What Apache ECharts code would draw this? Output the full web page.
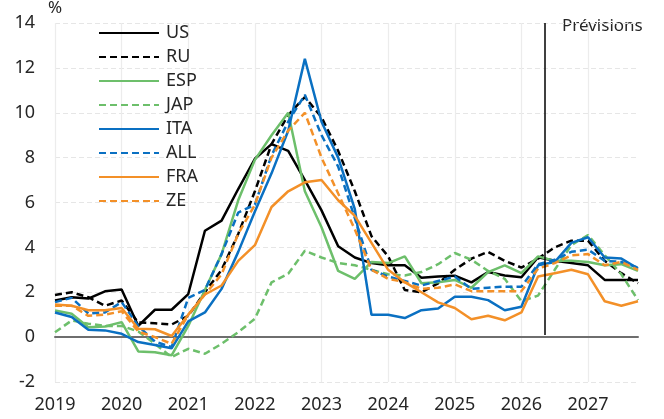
<!DOCTYPE html>
<html>
<head>
<meta charset="utf-8">
<script src="https://cdn.jsdelivr.net/npm/echarts@6/dist/echarts.min.js"></script>
<style>
  html, body { margin: 0; padding: 0; background: #fff; }
  #chart { width: 664px; height: 419px; }
</style>
</head>
<body>
<div id="chart"></div>
<script>
// trimestres 2019T1 .. 2027T4
const years = [2019, 2020, 2021, 2022, 2023, 2024, 2025, 2026, 2027]
const categories = []
years.forEach(y => { for (let q = 1; q <= 4; q++) categories.push(y + 'T' + q) })

const yTicks = [-2, 0, 2, 4, 6, 8, 10, 12, 14]
const forecastStart = 29.43 // position (en trimestres depuis 2019T1) de la ligne Prévisions

const US = [1.63, 1.78, 1.72, 2.04, 2.12, 0.5, 1.22, 1.22, 1.92, 4.74, 5.19, 6.6, 7.95, 8.6, 8.3, 7.0, 5.65, 4.05, 3.55, 3.3, 3.2, 3.2, 2.65, 2.7, 2.74, 2.44, 2.9, 2.75, 2.67, 3.56, 3.4, 3.3, 3.2, 2.55, 2.55, 2.55]
const RU = [1.88, 2.0, 1.78, 1.4, 1.63, 0.65, 0.62, 0.56, 0.95, 2.0, 3.0, 4.6, 6.5, 8.6, 9.9, 10.7, 9.8, 8.3, 6.5, 4.5, 3.6, 2.1, 2.0, 2.4, 3.0, 3.5, 3.8, 3.4, 3.1, 3.5, 4.0, 4.3, 4.3, 3.4, 2.85, 2.4]
const ESP = [1.19, 1.04, 0.44, 0.47, 0.67, -0.64, -0.67, -0.81, 0.5, 2.1, 3.7, 6.1, 7.9, 9.0, 10.0, 6.5, 4.9, 2.95, 2.6, 3.35, 3.3, 3.6, 2.4, 2.45, 2.55, 2.2, 2.9, 3.2, 2.85, 3.6, 3.4, 3.4, 3.35, 3.2, 3.25, 2.95]
const JAP = [0.22, 0.74, 0.6, 0.5, 0.5, 0.25, -0.3, -0.89, -0.52, -0.74, -0.3, 0.22, 0.82, 2.44, 2.82, 3.85, 3.55, 3.3, 3.2, 3.0, 2.8, 2.75, 2.9, 3.25, 3.75, 3.45, 2.95, 2.6, 1.6, 1.85, 3.0, 4.1, 4.55, 3.65, 2.8, 1.65]
const ITA = [1.1, 0.9, 0.33, 0.3, 0.15, -0.22, -0.35, -0.5, 0.7, 1.1, 2.15, 3.8, 5.6, 7.3, 9.2, 12.4, 9.6, 8.0, 5.7, 1.0, 1.0, 0.85, 1.2, 1.28, 1.8, 1.8, 1.65, 1.2, 1.35, 3.2, 3.35, 4.2, 4.45, 3.55, 3.5, 3.05]
const ALL = [1.56, 1.75, 1.05, 1.1, 1.56, 0.5, -0.2, -0.45, 1.75, 2.1, 3.7, 5.55, 5.9, 8.1, 9.6, 10.8, 9.0, 7.6, 5.3, 3.0, 2.7, 2.5, 2.3, 2.5, 2.7, 2.15, 2.2, 2.25, 2.25, 3.25, 3.45, 3.8, 3.9, 3.4, 3.35, 3.1]
const FRA = [1.45, 1.4, 1.2, 1.2, 1.3, 0.37, 0.35, 0.05, 1.0, 1.9, 2.3, 3.4, 4.1, 5.8, 6.5, 6.9, 7.0, 6.1, 5.4, 4.2, 3.0, 2.45, 2.0, 1.55, 1.3, 0.8, 0.95, 0.75, 1.1, 2.7, 2.85, 3.0, 2.8, 1.6, 1.4, 1.6]
const ZE = [1.4, 1.4, 0.95, 1.0, 1.15, 0.25, 0.0, -0.3, 1.0, 1.9, 2.8, 4.6, 5.9, 8.0, 9.2, 10.0, 8.0, 6.4, 4.8, 3.0, 2.6, 2.45, 2.15, 2.2, 2.35, 2.05, 2.05, 2.05, 2.05, 3.05, 3.3, 3.65, 3.7, 3.2, 3.35, 3.0]

const black = '#000000'
const green = '#6dbf6b'
const blue = '#0a70c2'
const orange = '#f39028'
const font = 'Noto Sans'
const textColor = '#262626'

const seriesDefs = [
  { name: 'US', data: US, color: black, dashed: false },
  { name: 'RU', data: RU, color: black, dashed: true },
  { name: 'ESP', data: ESP, color: green, dashed: false },
  { name: 'JAP', data: JAP, color: green, dashed: true },
  { name: 'ITA', data: ITA, color: blue, dashed: false },
  { name: 'ALL', data: ALL, color: blue, dashed: true },
  { name: 'FRA', data: FRA, color: orange, dashed: false },
  { name: 'ZE', data: ZE, color: orange, dashed: true }
]

const series = seriesDefs.map(s => ({
  name: s.name,
  type: 'line',
  data: s.data,
  symbol: 'none',
  color: s.color,
  lineStyle: { color: s.color, width: 2.5, type: s.dashed ? [7, 4] : 'solid' },
  animation: false
}))

// ligne verticale Prévisions, sur un axe x numérique caché (position fractionnaire)
series.push({
  name: 'prev',
  type: 'line',
  xAxisIndex: 1,
  data: [],
  symbol: 'none',
  markLine: {
    silent: true,
    symbol: 'none',
    label: { show: false },
    lineStyle: { color: '#000', width: 1.5, type: 'solid' },
    data: [[{ coord: [forecastStart, 0.1] }, { coord: [forecastStart, yTicks[yTicks.length - 1]] }]]
  }
})

const chart = echarts.init(document.getElementById('chart'))
chart.setOption({
  backgroundColor: '#fff',
  animation: false,
  grid: { left: 55, right: 26, top: 22.5, bottom: 37 },
  legend: {
    orient: 'vertical',
    left: 98,
    top: 24,
    padding: 0,
    itemWidth: 60,
    itemHeight: 14,
    itemGap: 6,
    data: seriesDefs.map(s => s.name),
    itemStyle: { opacity: 0 },
    textStyle: { fontFamily: font, fontSize: 18, color: textColor, padding: [0, 0, 0, 2] }
  },
  xAxis: [{
    type: 'category',
    data: categories,
    boundaryGap: false,
    axisLine: { show: true, onZero: true, lineStyle: { color: '#6e6e6e', width: 2 } },
    axisTick: { show: false },
    axisLabel: {
      interval: 3,
      margin: 14,
      fontFamily: font,
      fontSize: 18,
      color: textColor,
      formatter: v => v.slice(0, 4)
    },
    splitLine: { show: true, interval: 3, lineStyle: { color: '#ececec', width: 1.2 } }
  }, {
    type: 'value',
    min: 0,
    max: categories.length - 1,
    show: false
  }],
  yAxis: {
    type: 'value',
    min: yTicks[0],
    max: yTicks[yTicks.length - 1],
    interval: 2,
    name: '%',
    nameLocation: 'end',
    nameGap: 6,
    nameTextStyle: { fontFamily: font, fontSize: 17, color: textColor, align: 'center' },
    axisLine: { show: false },
    axisTick: { show: false },
    axisLabel: { fontFamily: font, fontSize: 18, color: textColor, margin: 20 },
    splitLine: { show: true, lineStyle: { color: '#e6e6e6', width: 1.2, type: [5, 3] } }
  },
  graphic: [{
    type: 'text',
    left: 562,
    top: 18,
    style: { text: 'Prévisions', fontFamily: font, fontSize: 17, fill: textColor }
  }],
  series: series
})
</script>
</body>
</html>
